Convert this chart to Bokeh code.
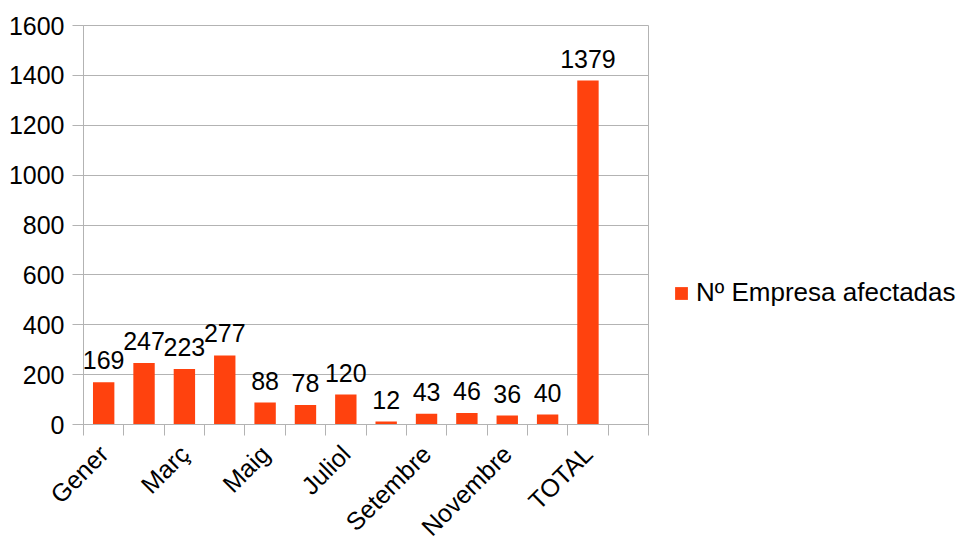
import math
from bokeh.plotting import figure
from bokeh.models import (ColumnDataSource, Range1d, FixedTicker, LabelSet,
                          Legend, LegendItem)
from bokeh.core.properties import value
from bokeh.embed import file_html
from bokeh.resources import INLINE

categories = ["Gener", "Febrer", "Març", "Abril", "Maig", "Juny", "Juliol",
              "Agost", "Setembre", "Octubre", "Novembre", "Desembre", "TOTAL"]
values = [169, 247, 223, 277, 88, 78, 120, 12, 43, 46, 36, 40, 1379]
series_name = "Nº Empresa afectadas"
y_ticks = [0, 200, 400, 600, 800, 1000, 1200, 1400, 1600]

FONT = "Liberation Sans"
FS = "25px"
GRID = "#b3b3b3"
BAR = "#ff420e"

n_slots = len(categories) + 1
xs = list(range(len(categories)))
src = ColumnDataSource(dict(x=xs, top=values, lab=[str(v) for v in values]))

p = figure(frame_width=565, frame_height=399,
           min_border_left=83, min_border_top=25, min_border_right=315,
           min_border_bottom=114,
           x_range=Range1d(-0.5, n_slots - 0.5), y_range=Range1d(0, 1600),
           output_backend="svg", toolbar_location=None, tools="")
p.outline_line_color = GRID
p.background_fill_color = "white"
p.border_fill_color = "white"

r = p.vbar(x="x", top="top", width=0.53, source=src, fill_color=BAR,
           line_color=None)

labels = LabelSet(x="x", y="top", text="lab", source=src, y_offset=13,
                  text_align="center", text_baseline="alphabetic",
                  text_font=value(FONT), text_font_size=value(FS),
                  text_color="black")
p.add_layout(labels)

# x axis
xa = p.xaxis[0]
xa.ticker = FixedTicker(ticks=xs[::2],
                        minor_ticks=[i - 0.5 for i in range(n_slots + 1)])
xa.major_label_overrides = {i: categories[i] for i in xs[::2]}
xa.major_label_orientation = math.pi / 4
xa.major_tick_line_color = None
xa.major_tick_out = 11
xa.major_tick_in = 0
xa.minor_tick_out = 11
xa.minor_tick_in = 0
xa.minor_tick_line_color = GRID
xa.axis_line_color = GRID
xa.major_label_text_font = FONT
xa.major_label_text_font_size = FS
xa.major_label_text_color = "black"
xa.major_label_standoff = 14

# y axis
ya = p.yaxis[0]
ya.ticker = FixedTicker(ticks=y_ticks)
ya.major_tick_out = 11
ya.major_tick_in = 0
ya.major_tick_line_color = GRID
ya.minor_tick_line_color = None
ya.axis_line_color = GRID
ya.major_label_text_font = FONT
ya.major_label_text_font_size = FS
ya.major_label_text_color = "black"
ya.major_label_standoff = 8

p.xgrid.grid_line_color = None
p.ygrid.grid_line_color = GRID

legend = Legend(items=[LegendItem(label=series_name, renderers=[r])],
                location=(25, 116), orientation="vertical",
                border_line_color=None, background_fill_color=None,
                padding=0, margin=0, spacing=0,
                glyph_width=16, glyph_height=16, label_standoff=7,
                label_text_font=FONT, label_text_font_size="26px",
                label_text_color="black")
p.add_layout(legend, "right")

open("out.html", "w").write(file_html(p, INLINE))
